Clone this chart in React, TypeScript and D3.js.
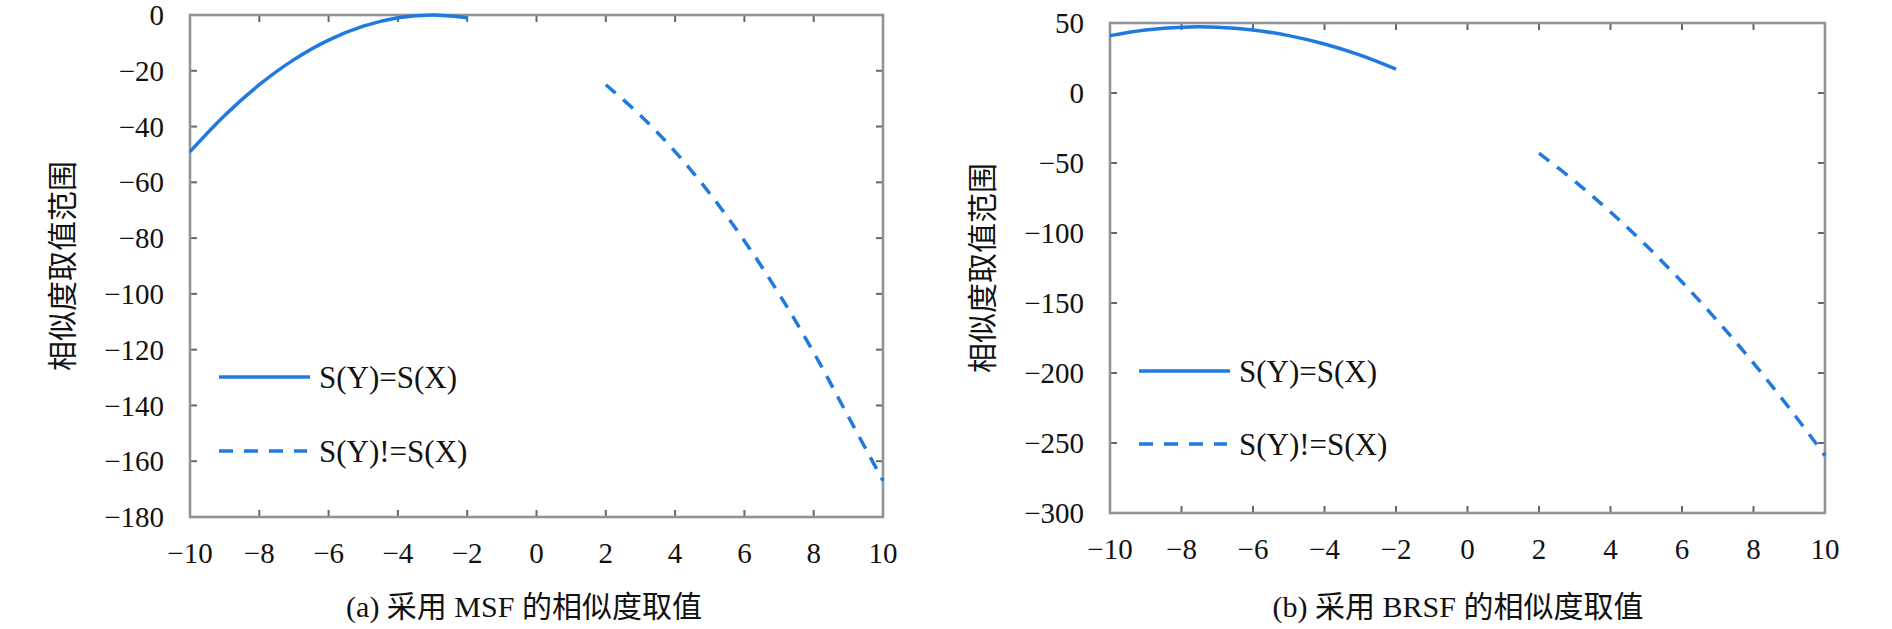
import * as d3 from "d3";

// values
const xTicks = [-10, -8, -6, -4, -2, 0, 2, 4, 6, 8, 10];
const solidX = [-10, -9, -8, -7, -6, -5, -4, -3, -2];
const dashedX = [2, 3, 4, 5, 6, 7, 8, 9, 10];

const msfSolid = [-49, -36, -25, -16, -9, -4, -1, 0, -1];
const msfDashed = [-25, -36, -49, -64, -81, -100, -121, -144, -167];
const msfYTicks = [0, -20, -40, -60, -80, -100, -120, -140, -160, -180];

const brsfSolid = [41, 45, 47, 47, 45, 41, 35, 27, 17];
const brsfDashed = [-43, -63, -85, -109, -135, -163, -193, -225, -259];
const brsfYTicks = [50, 0, -50, -100, -150, -200, -250, -300];

const legendLabels = ["S(Y)=S(X)", "S(Y)!=S(X)"];
const yLabel = "相似度取值范围";
const captions = ["(a) 采用 MSF 的相似度取值", "(b) 采用 BRSF 的相似度取值"];

const LINE = "#1e7ae0";
const FRAME = "#8d949a";
const TICK = "#5d6872";
const SERIF = "'Liberation Serif', 'Times New Roman', serif";
const CJK = "'Noto Sans CJK SC', sans-serif";

interface PanelProps {
  x0: number;
  x1: number;
  y0: number;
  y1: number;
  yDomain: [number, number];
  yTicks: number[];
  solid: number[];
  dashed: number[];
  labelX: number;
  legendY: [number, number];
  caption: string;
  captionX: number;
}

function Panel(p: PanelProps) {
  const x = d3.scaleLinear().domain([-10, 10]).range([p.x0, p.x1]);
  const y = d3.scaleLinear().domain(p.yDomain).range([p.y1, p.y0]);
  const line = d3
    .line<[number, number]>()
    .x((d) => x(d[0]))
    .y((d) => y(d[1]))
    .curve(d3.curveCatmullRom.alpha(0.5));
  const fmt = d3.format("");
  const tl = 7;

  const solidPts = solidX.map((v, i) => [v, p.solid[i]] as [number, number]);
  const dashedPts = dashedX.map((v, i) => [v, p.dashed[i]] as [number, number]);
  const lx = p.x0 + 29;

  return (
    <g>
      {/* ticks on all four sides, pointing inward */}
      {xTicks.map((t) => (
        <g key={"x" + t}>
          <line x1={x(t)} x2={x(t)} y1={p.y1} y2={p.y1 - tl} stroke={TICK} strokeWidth={2} />
          <line x1={x(t)} x2={x(t)} y1={p.y0} y2={p.y0 + tl} stroke={TICK} strokeWidth={2} />
          <text
            x={x(t)}
            y={p.y1 + 46}
            textAnchor="middle"
            fontFamily={SERIF}
            fontSize={29}
            fill="#111"
          >
            {fmt(t)}
          </text>
        </g>
      ))}
      {p.yTicks.map((t) => (
        <g key={"y" + t}>
          <line x1={p.x0} x2={p.x0 + tl} y1={y(t)} y2={y(t)} stroke={TICK} strokeWidth={2} />
          <line x1={p.x1} x2={p.x1 - tl} y1={y(t)} y2={y(t)} stroke={TICK} strokeWidth={2} />
          <text
            x={p.x0 - 26}
            y={y(t)}
            dy="0.35em"
            textAnchor="end"
            fontFamily={SERIF}
            fontSize={29}
            fill="#111"
          >
            {fmt(t)}
          </text>
        </g>
      ))}
      <rect
        x={p.x0}
        y={p.y0}
        width={p.x1 - p.x0}
        height={p.y1 - p.y0}
        fill="none"
        stroke={FRAME}
        strokeWidth={2.6}
      />

      <path d={line(solidPts) ?? ""} fill="none" stroke={LINE} strokeWidth={3.5} />
      <path
        d={line(dashedPts) ?? ""}
        fill="none"
        stroke={LINE}
        strokeWidth={3.5}
        strokeDasharray="13,10"
      />

      {/* legend */}
      <line x1={lx} x2={lx + 91} y1={p.legendY[0]} y2={p.legendY[0]} stroke={LINE} strokeWidth={3.5} />
      <line
        x1={lx}
        x2={lx + 88}
        y1={p.legendY[1]}
        y2={p.legendY[1]}
        stroke={LINE}
        strokeWidth={3.5}
        strokeDasharray="14,11"
      />
      {legendLabels.map((s, i) => (
        <text
          key={s}
          x={lx + 100}
          y={p.legendY[i]}
          dy="0.35em"
          fontFamily={SERIF}
          fontSize={31}
          fill="#111"
        >
          {s}
        </text>
      ))}

      <text
        transform={`translate(${p.labelX},${(p.y0 + p.y1) / 2}) rotate(-90)`}
        textAnchor="middle"
        dy="0.35em"
        fontFamily={CJK}
        fontSize={30}
        fill="#111"
      >
        {yLabel}
      </text>

      <text
        x={p.captionX}
        y={606}
        dy="0.35em"
        textAnchor="middle"
        fontFamily={`${SERIF.split(",")[0]}, ${CJK}`}
        fontSize={30}
        fill="#111"
      >
        {p.caption}
      </text>
    </g>
  );
}

export default function App() {
  return (
    <svg
      width={1892}
      height={629}
      style={{ position: "absolute", left: 0, top: 0, background: "#fff" }}
    >
      <rect width={1892} height={629} fill="#fff" />
      <Panel
        x0={190}
        x1={883}
        y0={15}
        y1={517}
        yDomain={[-180, 0]}
        yTicks={msfYTicks}
        solid={msfSolid}
        dashed={msfDashed}
        labelX={62}
        legendY={[377, 451]}
        caption={captions[0]}
        captionX={524}
      />
      <Panel
        x0={1110}
        x1={1825}
        y0={23}
        y1={513}
        yDomain={[-300, 50]}
        yTicks={brsfYTicks}
        solid={brsfSolid}
        dashed={brsfDashed}
        labelX={982}
        legendY={[371, 444]}
        caption={captions[1]}
        captionX={1458}
      />
    </svg>
  );
}
